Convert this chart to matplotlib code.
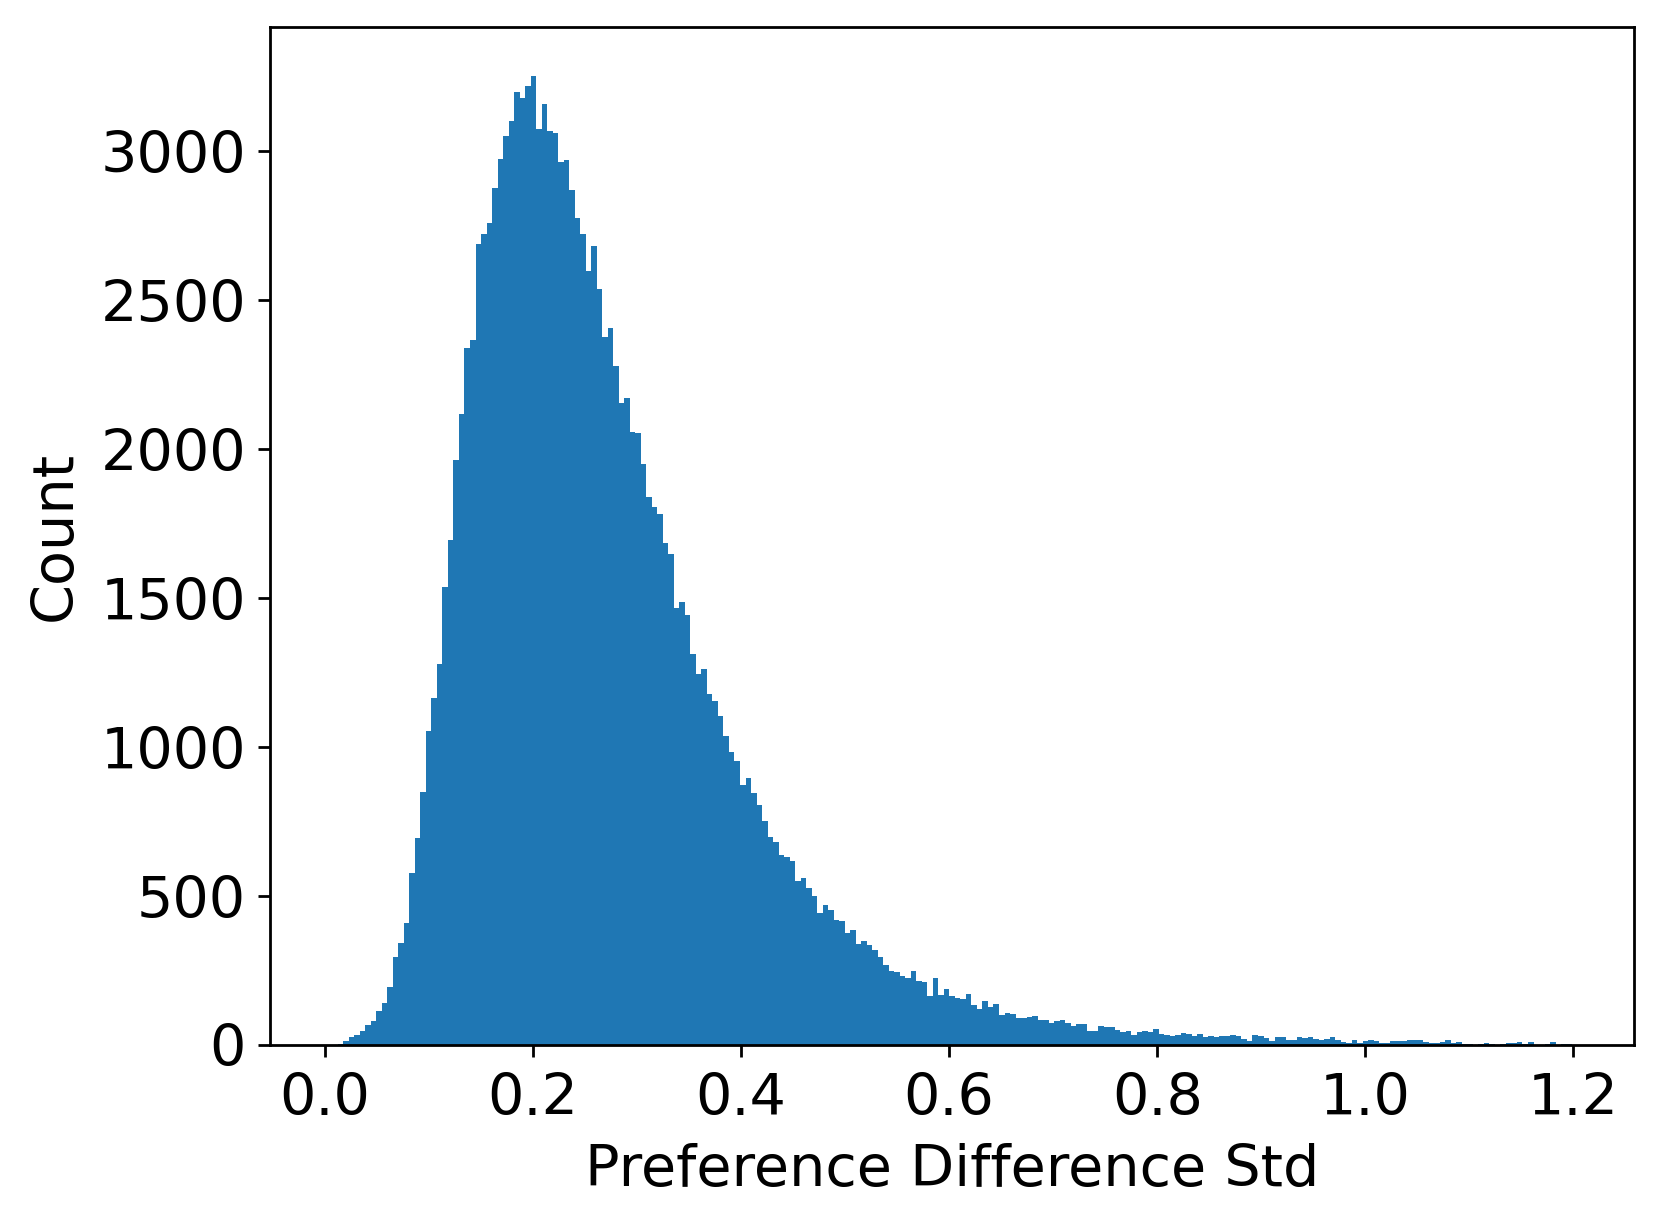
import matplotlib
matplotlib.use('Agg')
import matplotlib.pyplot as plt
import numpy as np

# Histogram bins (225 bins) and counts
bin_start = 0.007
bin_width = 0.005297
counts = [
    1,
    2, 13, 28, 34, 48, 67, 80, 115, 142, 196, 296, 343, 411, 576, 694, 848, 1054, 1165, 1279, 1536,
    1696, 1965, 2118, 2341, 2367, 2688, 2723, 2760, 2876, 2973, 3053, 3103, 3201, 3179, 3221, 3254, 3075, 3158, 3067,
    3063, 2964, 2970, 2870, 2777, 2723, 2598, 2683, 2538, 2376, 2408, 2279, 2155, 2173, 2058, 2053, 1952, 1841, 1805, 1782, 1684,
    1649, 1468, 1486, 1442, 1313, 1245, 1263, 1177, 1154, 1103, 1036, 983, 952, 874, 897, 847, 804, 753, 699, 680,
    639, 632, 618, 550, 562, 528, 499, 444, 471, 453, 420, 416, 377, 385, 338, 349, 337, 319,
    295, 269, 248, 246, 231, 225, 249, 215, 212, 163, 226, 169, 187, 164, 158, 154, 172, 135, 119, 147,
    126, 139, 102, 108, 104, 91, 91, 95, 97, 85, 83, 73, 80, 83, 73, 65, 71, 70, 48,
    48, 65, 60, 61, 49, 44, 48, 33, 44, 48, 44, 53, 37, 34, 30, 33, 39, 37, 30, 38,
    28, 30, 26, 29, 29, 33, 29, 19, 13, 33, 29, 22, 13, 26, 26, 18, 17, 25, 22, 26, 21, 15, 19,
    25, 17, 11, 8, 16, 8, 13, 18, 13, 8, 6, 12, 13, 13, 15, 18, 15, 10, 8, 8,
    10, 16, 8, 11, 4, 3, 1, 4, 8, 2, 1, 4, 8, 7, 9, 4, 10, 1, 1, 4, 10, 1, 2, 2,
]
x_label = 'Preference Difference Std'
y_label = 'Count'

edges = bin_start + bin_width * np.arange(len(counts) + 1)
centers = (edges[:-1] + edges[1:]) / 2

DPI = 250
fig = plt.figure(figsize=(1662 / DPI, 1224 / DPI), dpi=DPI)
ax = fig.add_axes([0.1626, 0.1463, 0.8206, 0.8314])
ax.hist(centers, bins=edges, weights=counts, color='#1f77b4')
ax.set_xlabel(x_label, fontsize=16.5, labelpad=4.8)
ax.set_ylabel(y_label, fontsize=16.5, labelpad=5.0)
ax.tick_params(labelsize=16.5)
ax.tick_params(axis='x', pad=4.2)
fig.savefig('out.png', dpi=DPI)
